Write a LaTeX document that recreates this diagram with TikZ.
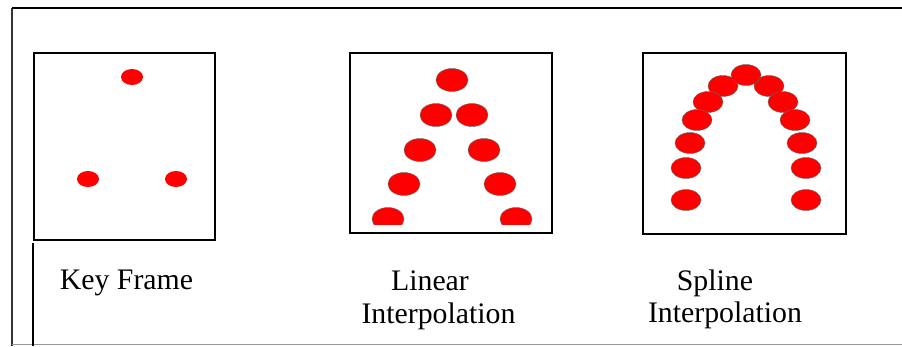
\documentclass[tikz,border=0pt]{standalone}
\usepackage{fontspec}
\setmainfont{Liberation Serif}
\usetikzlibrary{shapes.geometric}
\tikzset{
  frame/.style={draw,line width=1.6pt,minimum width=#1,inner sep=0pt},
  keydot/.style={ellipse,fill=red,inner sep=0pt,minimum width=22pt,minimum height=16pt},
  lindot/.style={ellipse,fill=red,draw=black!60,line width=0.4pt,inner sep=0pt,minimum width=32pt,minimum height=23pt},
  spldot/.style={ellipse,fill=red,draw=black!60,line width=0.4pt,inner sep=0pt,minimum width=30pt,minimum height=21pt},
  label/.style={anchor=base,inner sep=0pt,font=\fontsize{29.8}{33}\selectfont}
}
\begin{document}
\begin{tikzpicture}[x=1pt,y=-1pt]
\useasboundingbox (0,0) rectangle (902,346);

% outer frame
\draw[line width=1.2pt,black!80] (12,346) -- (12,8);
\draw[line width=1.6pt] (12,8) -- (902,8);
\draw[line width=1pt,black!40] (12,344.5) -- (902,344.5);
\draw[line width=1.6pt] (33,243) -- (33,346);

% key frame
\node[frame,minimum width=181pt,minimum height=187pt] (key) at (124.5,146.5) {};
\node[keydot] (k1) at (132,77) {};
\node[keydot] (k2) at (88,179) {};
\node[keydot] (k3) at (176,179) {};

% linear interpolation
\node[frame,minimum width=202pt,minimum height=180pt] (lin) at (451,143) {};
\node[lindot] (l1) at (452,80) {};
\node[lindot] (l2) at (436,115) {};
\node[lindot] (l3) at (472,115) {};
\node[lindot] (l4) at (420,150) {};
\node[lindot] (l5) at (484,150) {};
\node[lindot] (l6) at (404,184) {};
\node[lindot] (l7) at (500,184) {};
\begin{scope}
\clip (350,53) rectangle (532,224);
\node[lindot] (l8) at (388,219) {};
\node[lindot] (l9) at (516,219) {};
\end{scope}

% spline interpolation
\node[frame,minimum width=203pt,minimum height=181pt] (spl) at (744.5,143.5) {};
\foreach \n/\xa/\xb/\yy in {1/723/769/86, 2/708/783/102, 3/697/795/120,
                            4/690/802/143, 5/686/806/168, 6/686/806/200} {
  \node[spldot] (sa\n) at (\xa,\yy) {};
  \node[spldot] (sb\n) at (\xb,\yy) {};
}
\node[spldot] (s0) at (746,75) {};

% captions
\node[label] (keytxt) at (126.5,289) {Key Frame};
\node[label] (lintxt1) at (430,290) {Linear};
\node[label] (lintxt2) at (438.5,323) {Interpolation};
\node[label] (spltxt1) at (715,290) {Spline};
\node[label] (spltxt2) at (725,322) {Interpolation};
\end{tikzpicture}
\end{document}
